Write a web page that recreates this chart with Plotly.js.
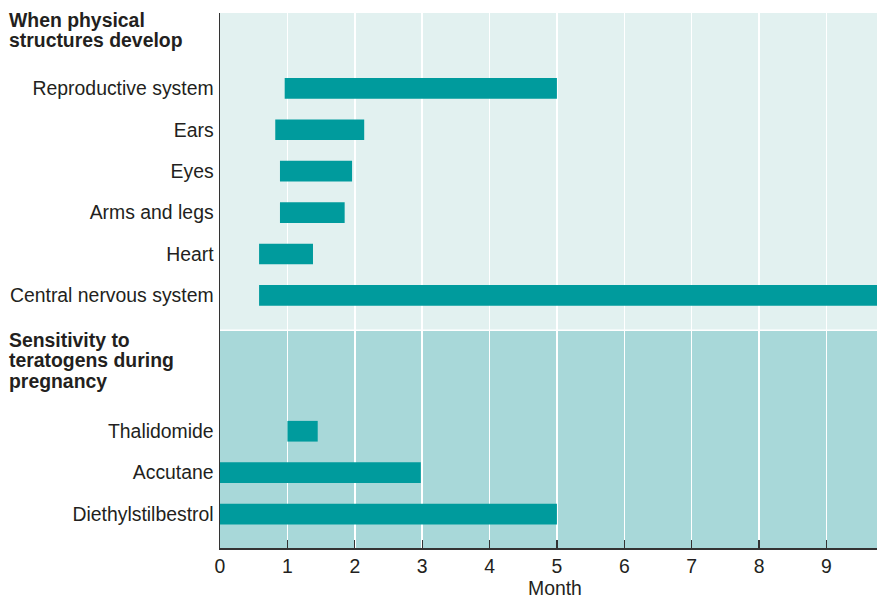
<!DOCTYPE html>
<html>
<head>
<meta charset="utf-8">
<script src="https://cdn.plot.ly/plotly-3.0.1.min.js"></script>
<style>
  html, body { margin: 0; padding: 0; background: #ffffff; }
  #chart { width: 877px; height: 599px; }
</style>
</head>
<body>
<div id="chart"></div>
<script>
// Developmental windows (months of pregnancy), listed bottom-to-top
const devLabels = ["Central nervous system", "Heart", "Arms and legs", "Eyes", "Ears", "Reproductive system"];
const devStart  = [0.58, 0.58, 0.89, 0.89, 0.82, 0.96];
const devEnd    = [9.75, 1.38, 1.85, 1.96, 2.14, 5.0];

// Teratogen sensitivity windows (months), listed bottom-to-top
const teraLabels = ["Diethylstilbestrol", "Accutane", "Thalidomide"];
const teraStart  = [0, 0, 1.0];
const teraEnd    = [5.0, 2.98, 1.45];

const monthTicks = [0, 1, 2, 3, 4, 5, 6, 7, 8, 9];
const groupTitles = [
  ["When physical", "structures develop"],
  ["Sensitivity to", "teratogens during", "pregnancy"]
];
const axisTitle = "Month";

// ---- geometry ----
const W = 877, H = 599;
const M = { l: 220, r: 0, t: 13, b: 51 };
const plotW = W - M.l - M.r, plotH = H - M.t - M.b;
const devOffset = 5.28;          // first row of the upper group
const yMin = -0.82, yMax = 12.1;
const split = 4.44;              // boundary between the two shaded bands
const xMax = 9.75;

const FONT = "Liberation Sans, Arial, Helvetica, sans-serif";
const FS = 19.4;
const BAR = "#009b9d";
const LIGHT = "#e2f1f0";
const DARK = "#a8d8d9";
const INK = "#231f20";

const teraY = teraLabels.map((_, i) => i);
const devY = devLabels.map((_, i) => devOffset + i);

function spans(starts, ends) { return ends.map((e, i) => e - starts[i]); }

const traces = [
  {
    type: "bar", orientation: "h",
    y: teraY, base: teraStart, x: spans(teraStart, teraEnd),
    width: 0.5, marker: { color: BAR, line: { width: 0 } },
    hoverinfo: "skip", showlegend: false, cliponaxis: true
  },
  {
    type: "bar", orientation: "h",
    y: devY, base: devStart, x: spans(devStart, devEnd),
    width: 0.5, marker: { color: BAR, line: { width: 0 } },
    hoverinfo: "skip", showlegend: false, cliponaxis: true
  }
];

// pixel -> paper helpers for the side headings
const pxX = px => (px - M.l) / plotW;
const pxY = py => (H - M.b - py) / plotH;

const headerCenters = [[20, 40.5], [339.5, 360, 380.5]];
const annotations = [];
groupTitles.forEach((lines, g) => {
  lines.forEach((line, k) => {
    annotations.push({
      text: "<b>" + line + "</b>",
      xref: "paper", yref: "paper",
      x: pxX(7), y: pxY(headerCenters[g][k]),
      xanchor: "left", yanchor: "middle",
      showarrow: false,
      font: { family: FONT, size: FS, color: INK }
    });
  });
});
annotations.push({
  text: axisTitle,
  xref: "paper", yref: "paper",
  x: pxX(554.5), y: pxY(588),
  xanchor: "center", yanchor: "middle",
  showarrow: false,
  font: { family: FONT, size: FS, color: INK }
});

const layout = {
  width: W, height: H,
  margin: M,
  paper_bgcolor: "#ffffff",
  plot_bgcolor: LIGHT,
  font: { family: FONT, size: FS, color: INK },
  barmode: "overlay",
  xaxis: {
    range: [0, xMax],
    tickvals: monthTicks,
    ticktext: monthTicks.map(String),
    ticks: "inside", ticklen: 8, tickwidth: 1.3, tickcolor: "#333333",
    showline: true, linecolor: "#333333", linewidth: 1.5,
    showgrid: true, gridcolor: "#ffffff", gridwidth: 1.6,
    zeroline: false, fixedrange: true,
    tickfont: { family: FONT, size: FS, color: INK }
  },
  yaxis: {
    range: [yMin, yMax],
    tickvals: teraY.concat(devY),
    ticktext: teraLabels.concat(devLabels),
    ticks: "", ticklabelstandoff: 1,
    showline: true, linecolor: "#333333", linewidth: 1.5,
    showgrid: false, zeroline: false, fixedrange: true,
    tickfont: { family: FONT, size: FS, color: INK }
  },
  shapes: [
    {
      type: "rect", layer: "below",
      xref: "x", yref: "y",
      x0: -1, x1: xMax + 1, y0: yMin - 1, y1: split,
      fillcolor: DARK, line: { width: 0 }
    },
    {
      type: "line", layer: "below",
      xref: "x", yref: "y",
      x0: -1, x1: xMax + 1, y0: split, y1: split,
      line: { color: "#ffffff", width: 1.6 }
    }
  ],
  annotations: annotations
};

Plotly.newPlot("chart", traces, layout, { displayModeBar: false, staticPlot: true });
</script>
</body>
</html>
